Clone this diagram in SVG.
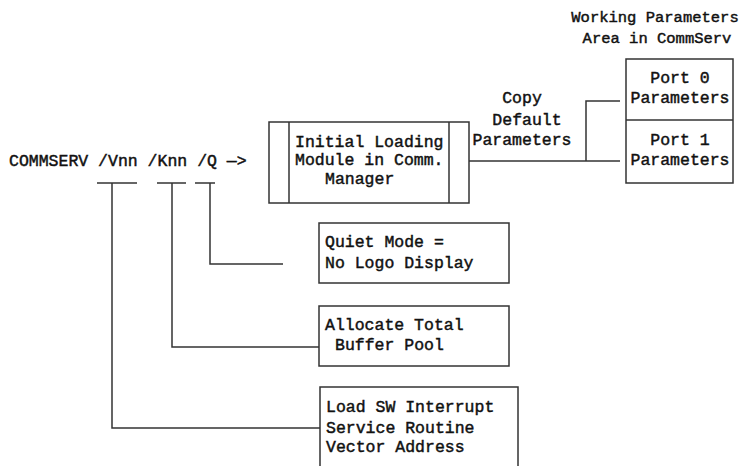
<svg xmlns="http://www.w3.org/2000/svg" width="751" height="466" viewBox="0 0 751 466">
<style>
.t{font-family:"Liberation Mono","DejaVu Sans Mono",monospace;font-size:16.5px;fill:#111;stroke:#111;stroke-width:0.45}
.s{font-size:15.5px}
.m{text-anchor:middle}
.b{fill:#fff;stroke:#333;stroke-width:1.5}
.c{fill:none;stroke:#333;stroke-width:1.5}
</style>
<rect width="751" height="466" fill="#fff"/>
<g id="command">
<text class="t" x="9" y="166">COMMSERV /Vnn /Knn /Q —&gt;</text>
</g>
<g id="module">
<rect class="b" x="269" y="122" width="200" height="81"/>
<line class="c" x1="289" y1="122" x2="289" y2="203"/>
<line class="c" x1="449" y1="122" x2="449" y2="203"/>
<text class="t" x="295" y="147">Initial Loading</text>
<text class="t" x="295" y="165">Module in Comm.</text>
<text class="t" x="325" y="184">Manager</text>
</g>
<g id="ports">
<rect class="b" x="626" y="59" width="107" height="124"/>
<line class="c" x1="626" y1="120" x2="733" y2="120"/>
<text class="t m" x="680" y="83">Port 0</text>
<text class="t m" x="680" y="103">Parameters</text>
<text class="t m" x="680" y="145">Port 1</text>
<text class="t m" x="680" y="165">Parameters</text>
</g>
<g id="ports-title">
<text class="t s m" x="655" y="22">Working Parameters</text>
<text class="t s m" x="657" y="43">Area in CommServ</text>
</g>
<g id="copy-label">
<text class="t m" x="522" y="103">Copy</text>
<text class="t m" x="527" y="125">Default</text>
<text class="t m" x="522" y="145">Parameters</text>
</g>
<g id="quiet">
<rect class="b" x="319" y="223" width="190" height="60"/>
<text class="t" x="325" y="247">Quiet Mode =</text>
<text class="t" x="325" y="268">No Logo Display</text>
</g>
<g id="allocate">
<rect class="b" x="319" y="306" width="190" height="60"/>
<text class="t" x="325" y="330">Allocate Total</text>
<text class="t" x="335" y="350">Buffer Pool</text>
</g>
<g id="load">
<rect class="b" x="320" y="387" width="198" height="100"/>
<text class="t" x="326" y="412">Load SW Interrupt</text>
<text class="t" x="326" y="433">Service Routine</text>
<text class="t" x="326" y="452">Vector Address</text>
</g>
<g id="connectors">
<line class="c" x1="97" y1="183" x2="137" y2="183"/>
<line class="c" x1="157" y1="183" x2="186" y2="183"/>
<line class="c" x1="195" y1="183" x2="215" y2="183"/>
<polyline class="c" points="210,183 210,264 283,264"/>
<polyline class="c" points="172,183 172,347 319,347"/>
<polyline class="c" points="112,183 112,428 320,428"/>
<polyline class="c" points="469,161 620,161"/>
<polyline class="c" points="586,161 586,101 620,101"/>
</g>
</svg>
